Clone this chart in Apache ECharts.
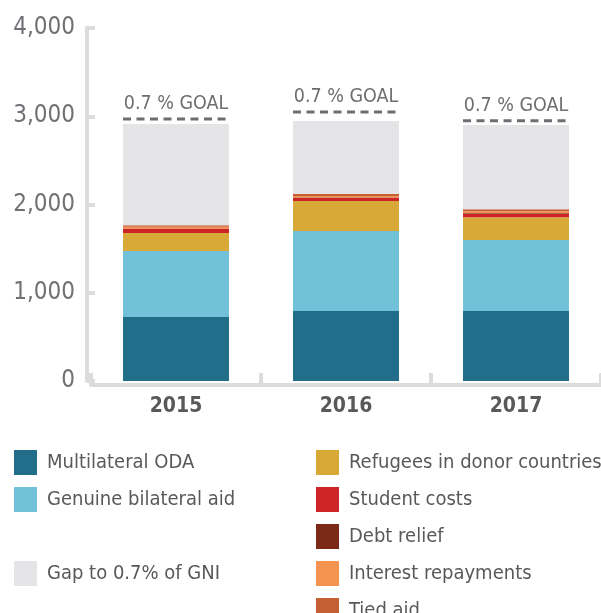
<!DOCTYPE html>
<html>
<head>
<meta charset="utf-8">
<script src="https://cdn.jsdelivr.net/npm/echarts@6/dist/echarts.min.js"></script>
<style>
  html, body { margin: 0; padding: 0; background: #fff; }
  #chart { width: 601px; height: 613px; }
</style>
</head>
<body>
<div id="chart"></div>
<script>
const years = ["2015", "2016", "2017"];
const multilateral = [725, 793, 793];
const bilateral = [748, 906, 805];
const refugees = [204, 340, 257];
const students = [51, 34, 37];
const debtRelief = [0, 6, 8];
const interest = [19, 17, 23];
const tiedAid = [19, 23, 23];
const gapToGoal = [1146, 827, 955];
const goal = [2969, 3048, 2950];
const goalLabel = "0.7 % GOAL";

const font = '"DejaVu Sans Condensed", "Liberation Sans Narrow", sans-serif';
const axisGray = "#dcdcdc";

function stackBar(name, data, color) {
  return {
    name: name,
    type: "bar",
    stack: "oda",
    barWidth: 106,
    data: data,
    itemStyle: { color: color },
  };
}

const legendBase = {
  orient: "vertical",
  icon: "rect",
  itemWidth: 23,
  itemHeight: 25,
  itemGap: 12,
  selectedMode: false,
  textStyle: { fontFamily: font, fontSize: 20, color: "#58595b", padding: [0, 0, 0, 5] },
};

let option = {
  animation: false,
  grid: { left: 91, top: 28, width: 515, height: 353 },
  legend: [
    Object.assign({ left: 9, top: 445, data: ["Multilateral ODA", "Genuine bilateral aid"] }, legendBase),
    Object.assign({ left: 9, top: 556, data: ["Gap to 0.7% of GNI"] }, legendBase),
    Object.assign(
      {
        left: 311,
        top: 445,
        data: ["Refugees in donor countries", "Student costs", "Debt relief", "Interest repayments"],
      },
      legendBase
    ),
    Object.assign({ left: 311, top: 593, data: ["Tied aid"] }, legendBase),
  ],
  xAxis: {
    type: "category",
    data: years,
    offset: 4,
    axisLine: { onZero: false, lineStyle: { color: axisGray, width: 4 } },
    axisTick: { show: true, inside: true, length: 12, lineStyle: { color: axisGray, width: 4 } },
    axisLabel: { fontFamily: font, fontSize: 21, fontWeight: "bold", color: "#58595b", margin: 11 },
  },
  yAxis: {
    type: "value",
    min: 0,
    max: 4000,
    interval: 1000,
    offset: 4,
    splitLine: { show: false },
    axisLine: { show: true, lineStyle: { color: axisGray, width: 4 } },
    axisTick: { show: true, inside: true, length: 8, lineStyle: { color: axisGray, width: 4 } },
    axisLabel: {
      fontFamily: font,
      fontSize: 24,
      color: "#707174",
      margin: 12,
      formatter: (v) => v.toLocaleString("en-US"),
    },
  },
  series: [
    stackBar("Multilateral ODA", multilateral, "#226e8a"),
    stackBar("Genuine bilateral aid", bilateral, "#71c2d8"),
    stackBar("Refugees in donor countries", refugees, "#d8a936"),
    stackBar("Student costs", students, "#cc2427"),
    stackBar("Debt relief", debtRelief, "#7b2916"),
    stackBar("Interest repayments", interest, "#f4934f"),
    stackBar("Tied aid", tiedAid, "#c45e33"),
    stackBar("Gap to 0.7% of GNI", gapToGoal, "#e5e5e7"),
    {
      name: "goal",
      type: "custom",
      z: 10,
      data: years.map((y, i) => [i, goal[i]]),
      renderItem: function (params, api) {
        const p = api.coord([api.value(0), api.value(1)]);
        const half = 53;
        return {
          type: "group",
          children: [
            {
              type: "line",
              shape: { x1: p[0] - half, y1: p[1], x2: p[0] + half, y2: p[1] },
              style: { stroke: "#6d6e71", lineWidth: 3, lineDash: [8, 5.5] },
            },
            {
              type: "text",
              x: p[0],
              y: p[1] - 5,
              style: {
                text: goalLabel,
                align: "center",
                verticalAlign: "bottom",
                fill: "#6d6e71",
                font: "19.5px " + font,
              },
            },
          ],
        };
      },
    },
  ],
};

let myChart = echarts.init(document.getElementById("chart"));
option && myChart.setOption(option);
</script>
</body>
</html>
